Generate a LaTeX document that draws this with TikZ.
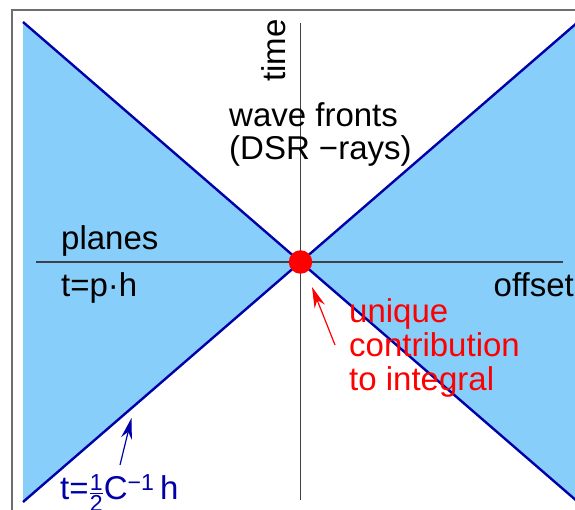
\documentclass[tikz,border=0pt]{standalone}
\usepackage{fontspec}
\setmainfont{Liberation Sans}
\usepackage{amsmath}
\usetikzlibrary{arrows.meta}
\definecolor{fanblue}{RGB}{135,206,250}
\definecolor{edgeblue}{RGB}{0,0,170}
\definecolor{framegray}{RGB}{110,110,110}
\definecolor{axisgray}{RGB}{60,66,72}

\begin{document}
\begin{tikzpicture}[x=1pt, y=1pt, >=Stealth,
    lbl/.style={inner sep=0pt, font=\fontsize{33}{33}\selectfont},
    pointer/.style={->, line width=1.2pt, >={Stealth[length=21pt, width=11pt]}}]
    \useasboundingbox (0,0) rectangle (575,510);
    \clip (0,0) rectangle (575,510);

    % Frame
    \draw[framegray, line width=1.5pt] (12,-10) rectangle (589,500);

    % Shaded sectors
    \fill[fanblue] (23,488) -- (300.5,248) -- (23,8) -- cycle;
    \fill[fanblue] (578,488) -- (300.5,248) -- (578,8) -- cycle;

    % Axes
    \draw[axisgray, line width=1.3pt] (36,248) -- (563,248);
    \draw[axisgray, line width=1.3pt] (300.5,487) -- (300.5,10);

    % Slope lines
    \draw[edgeblue, line width=2.4pt] (23,488) -- (578,8);
    \draw[edgeblue, line width=2.4pt] (23,8) -- (578,488);

    % Stationary point
    \node[circle, fill=red, minimum size=23.5pt, inner sep=0pt] (hit) at (300.5,248) {};

    % Labels
    \node[lbl, rotate=90, anchor=base west] (timelbl) at (285,428) {time};
    \node[lbl, anchor=base west] (wavelbl) at (229,383) {wave fronts};
    \node[lbl, anchor=base west] (dsrlbl) at (229,350) {(DSR −rays)};
    \node[lbl, anchor=base west] (planelbl) at (61,260) {planes};
    \node[lbl, anchor=base west] (planeeq) at (61,213) {t=p·h};
    \node[lbl, anchor=base east] (offsetlbl) at (574,213) {offset};
    \node[lbl, text=red, anchor=base west] (uniquelbl) at (349,187) {unique};
    \node[lbl, text=red, anchor=base west] (contriblbl) at (349,153) {contribution};
    \node[lbl, text=red, anchor=base west] (integrallbl) at (349,119) {to integral};
    \node[lbl, text=edgeblue, anchor=base west] (slopelbl) at (60,10)
        {t=$\frac{\text{1}}{\text{2}}$C\textsuperscript{−1}\,h};

    % Pointers
    \coordinate (redtail) at (335,165);
    \coordinate (redtip) at (312,223);
    \draw[pointer, red] (redtail) -- (redtip);
    \coordinate (bluetail) at (120,45);
    \coordinate (bluetip) at (131.5,92);
    \draw[pointer, edgeblue] (bluetail) -- (bluetip);
\end{tikzpicture}
\end{document}
